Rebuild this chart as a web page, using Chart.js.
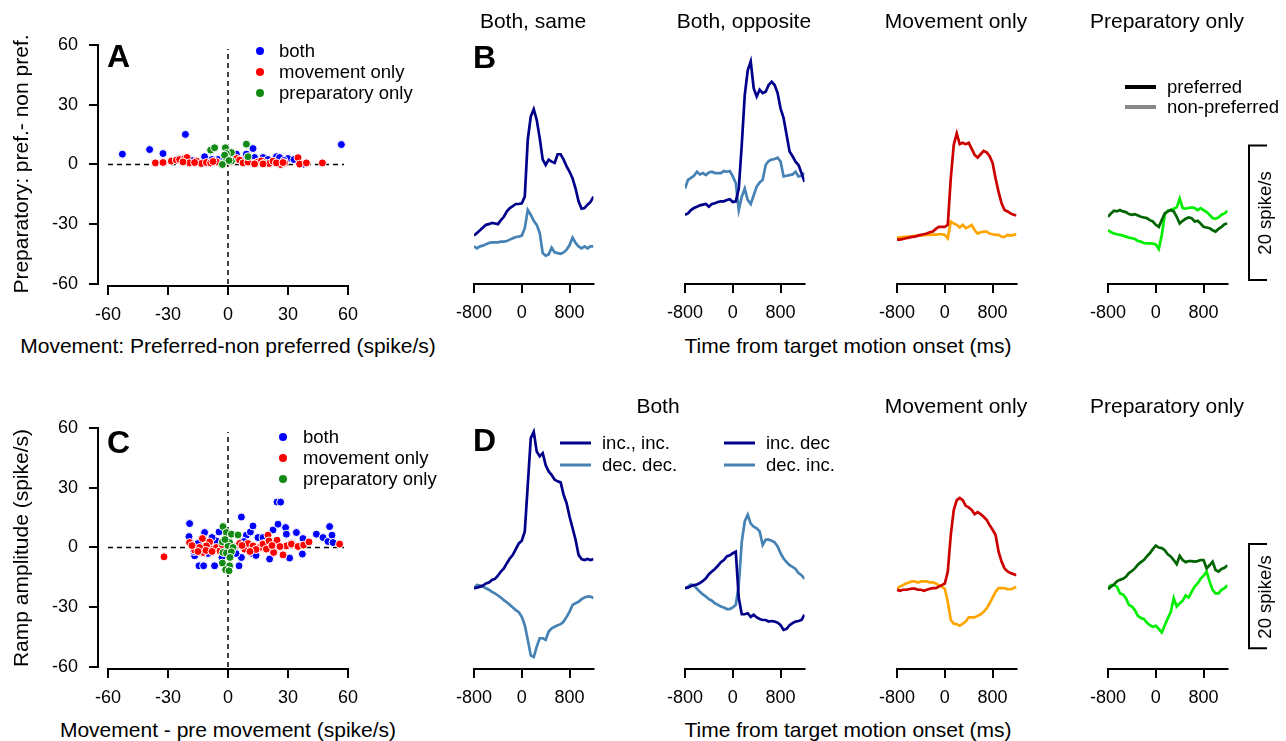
<!DOCTYPE html>
<html>
<head>
<meta charset="utf-8">
<script src="https://cdn.jsdelivr.net/npm/chart.js@4.4.1/dist/chart.umd.min.js"></script>
<style>
html, body { margin: 0; padding: 0; background: #fff; overflow: hidden; }
#fig { position: relative; width: 1286px; height: 741px; font-family: 'Liberation Sans', Arial, sans-serif; color: #000; }
#fig canvas { position: absolute; }
.t { position: absolute; white-space: nowrap; line-height: 1; font-size: 21px; transform: translate(-50%, -50%); }
.l { position: absolute; white-space: nowrap; line-height: 1; font-size: 18.5px; transform: translateY(-50%); }
.tag { position: absolute; font-size: 32px; font-weight: bold; line-height: 1; transform: translateY(-50%); }
.rot { position: absolute; white-space: nowrap; line-height: 1; transform: translate(-50%, -50%) rotate(-90deg); }
.dot { position: absolute; width: 8px; height: 8px; border-radius: 50%; transform: translate(-50%, -50%); }
.key { position: absolute; width: 31px; transform: translateY(-50%); }
</style>
</head>
<body>
<div id="fig">
  <!-- titulos de columnas -->
  <div class="t" style="left:533px;top:20px">Both, same</div>
  <div class="t" style="left:744px;top:20px">Both, opposite</div>
  <div class="t" style="left:956px;top:20px">Movement only</div>
  <div class="t" style="left:1167px;top:20px">Preparatory only</div>
  <div class="t" style="left:658px;top:405px">Both</div>
  <div class="t" style="left:956px;top:405px">Movement only</div>
  <div class="t" style="left:1167px;top:405px">Preparatory only</div>

  <!-- titulos de ejes -->
  <div class="t" style="left:228px;top:345px">Movement: Preferred-non preferred (spike/s)</div>
  <div class="t" style="left:228px;top:729px">Movement - pre movement (spike/s)</div>
  <div class="t" style="left:848px;top:345px">Time from target motion onset (ms)</div>
  <div class="t" style="left:848px;top:729px">Time from target motion onset (ms)</div>
  <div class="rot" style="left:20px;top:164px;font-size:21px">Preparatory: pref.- non pref.</div>
  <div class="rot" style="left:20px;top:548px;font-size:21px">Ramp amplitude (spike/s)</div>
  <div class="rot" style="left:1265px;top:213px;font-size:18.5px">20 spike/s</div>
  <div class="rot" style="left:1265px;top:597px;font-size:18.5px">20 spike/s</div>

  <!-- letras de paneles -->
  <div class="tag" style="left:107px;top:56px">A</div>
  <div class="tag" style="left:473px;top:57px">B</div>
  <div class="tag" style="left:107px;top:442px">C</div>
  <div class="tag" style="left:473px;top:440px">D</div>

  <!-- leyenda A -->
  <div class="dot" style="left:260px;top:51px;background:#0000ff"></div>
  <div class="dot" style="left:260px;top:72px;background:#ff0000"></div>
  <div class="dot" style="left:260px;top:93px;background:#138a13"></div>
  <div class="l" style="left:279px;top:51px">both</div>
  <div class="l" style="left:279px;top:72px">movement only</div>
  <div class="l" style="left:279px;top:93px">preparatory only</div>

  <!-- leyenda C -->
  <div class="dot" style="left:283px;top:437px;background:#0000ff"></div>
  <div class="dot" style="left:283px;top:458px;background:#ff0000"></div>
  <div class="dot" style="left:283px;top:479px;background:#138a13"></div>
  <div class="l" style="left:303px;top:437px">both</div>
  <div class="l" style="left:303px;top:458px">movement only</div>
  <div class="l" style="left:303px;top:479px">preparatory only</div>

  <!-- leyenda B -->
  <div class="key" style="left:1125px;top:87px;height:4px;background:#000"></div>
  <div class="key" style="left:1125px;top:107px;height:4px;background:#888"></div>
  <div class="l" style="left:1167px;top:87px">preferred</div>
  <div class="l" style="left:1167px;top:107px">non-preferred</div>

  <!-- leyenda D -->
  <div class="key" style="left:560px;top:443px;height:3px;background:#00008b"></div>
  <div class="key" style="left:560px;top:465px;height:3px;background:#4682b4"></div>
  <div class="l" style="left:602px;top:443px">inc., inc.</div>
  <div class="l" style="left:602px;top:465px">dec. dec.</div>
  <div class="key" style="left:724px;top:443px;height:3px;background:#00008b"></div>
  <div class="key" style="left:724px;top:465px;height:3px;background:#4682b4"></div>
  <div class="l" style="left:766px;top:443px">inc. dec</div>
  <div class="l" style="left:766px;top:465px">dec. inc.</div>
</div>

<script>
// ---- datos de los diagramas de dispersion (x, y) en spike/s ----
const aBoth = [[-52.8,5.2],[-39.2,7.5],[-32.5,5.5],[-21.3,15.1],[-11.7,3.9],[-5,2.5],[-1.7,3.0],[4.2,5.2],[9.2,5.2],[12.5,8.0],[13.3,3.5],[17.5,3.5],[24.2,3.9],[25.8,3.5],[30,3.0],[37.8,0.2],[56.7,10.0],[-25,2.5],[-18,2.0],[-8,2.5],[2,3.5],[7,2.0],[20,2.5],[28,2.0],[33,2.5]];
const aMov = [[-36.3,0.8],[-32.5,1.0],[-28.3,1.7],[-25.8,2.2],[-24.2,2.5],[-21.7,3.0],[-20.5,3.5],[-19.2,0.8],[-15.8,1.7],[-13.3,0.5],[-10.8,1.0],[-8.7,0.8],[-5.8,1.3],[1.7,1.3],[4.2,3.0],[5.8,2.2],[7.5,0.8],[11.7,0.8],[15,1.3],[16.7,1.8],[18.3,0.8],[20.5,0.5],[22.5,1.7],[26.3,0],[28.3,0.8],[35,3.4],[35.8,0.2],[39.2,0.8],[47.2,0.8],[-22.5,1.3],[-16.7,1.0],[-7.5,1.5],[-2.5,0.3],[10,1.2],[13.3,0.3],[17.5,0.3],[24.2,0.8],[27.5,1.0]];
const aPrep = [[-8.7,7.2],[-6.7,8.4],[-1.3,8.4],[1.7,6.0],[-0.8,5.5],[-0.8,3.0],[1.7,1.7],[-2.8,0],[9.2,10.2],[10,3.9],[-1.7,4.7],[0.5,2.0]];

const cBoth = [[-19.2,12.0],[-19.5,5.5],[-16.7,-4.2],[-14.5,-9.2],[-12.2,-9.2],[-11.7,7.5],[-6.7,-9.2],[-5.8,3.3],[-4.5,7.8],[6.7,15.3],[5.5,-9.2],[6.7,-5],[9.2,6.2],[11.2,7.8],[12.5,10.8],[15,5],[17.5,5],[20.8,-5.8],[22.5,8.8],[24.5,22.8],[26.3,22.8],[25,11.7],[28.8,10],[29.2,6.7],[30.8,-5.3],[34.2,7.5],[37.2,-3.3],[37.5,4.5],[44.2,6.7],[47.5,5],[50,3],[50.8,10.5],[52,6.2],[52.5,2.5],[-15,2],[-10,-3],[-8,5],[-3,-5],[4,-3],[8,3],[12,-3],[18,2],[23,-2],[32,2],[-17,-2],[14,-4]];
const cMov = [[-32,-4.7],[-19.2,2.5],[-16.7,-1.3],[-12.8,4.5],[-12.5,-2.5],[-9.2,2.8],[-7.5,-0.8],[-5.8,0],[-10.8,0.8],[-14.2,0],[-4,-1.7],[5.8,2],[8.3,-0.8],[10,2],[12.5,0.8],[15.8,0],[17.5,1.7],[19.2,-0.8],[20,6.2],[20.5,3.3],[22.8,-2.5],[24.5,3.7],[27.5,-3.7],[29.2,0.8],[31.7,1.7],[35,0.5],[37.8,1.2],[40.5,2.8],[55.8,1.7],[2.5,0],[-18,1],[-15,-2],[-11,-1.5],[-8,-2],[7,1],[14,-1],[22,1],[26,0.5],[-3,1.5],[11,-2]];
const cPrep = [[-2.5,10.5],[-0.8,7.5],[1.7,6.7],[5,6.3],[-2.8,2.8],[0.8,2.5],[0,0.8],[2.5,0],[-2.5,-2.5],[-0.8,-2.8],[1.7,-2.2],[-2.8,-7.8],[0.8,-9.2],[-1.2,-11.2],[0.5,-11.7],[-1.5,4],[1,-5]];

const scatterTicks = [-60, -30, 0, 30, 60];

// ---- curvas promedio: tiempo (ms) y tasa de disparo (spike/s) ----
const tMs = [-800,-750,-700,-650,-600,-550,-500,-450,-400,-350,-300,-250,-200,-150,-100,-50,0,50,100,150,200,250,300,350,400,450,500,550,600,650,700,750,800,850,900,950,1000,1050,1100,1150,1200];
const timeTicks = [-800, 0, 800];

// fila B: preferida / no preferida
const bSameP = [7.2,7.6,8.0,8.4,8.8,8.9,9.1,9.0,8.9,9.5,10.0,10.8,11.3,11.6,11.9,11.9,12.0,13.0,21.5,24.9,26.0,24.4,21.7,18.5,17.7,18.5,18.2,18.0,19.3,19.3,18.5,17.5,16.7,15.7,14.2,12.3,11.2,11.3,11.8,12.2,13.0];
const bSameN = [5.6,5.3,5.6,5.7,5.9,6.1,6.2,6.2,6.2,6.3,6.3,6.4,6.6,6.8,7.0,7.05,7.2,8.3,11.0,10.3,9.4,8.8,7.6,4.6,4.2,4.4,5.4,4.7,4.6,4.5,4.7,5.1,5.8,6.9,6.1,5.6,5.3,5.6,5.3,5.6,5.6];
const bOppP = [10.3,10.5,11.0,11.3,11.5,11.7,11.8,11.9,11.5,11.9,12.0,12.2,12.3,12.3,12.5,12.6,12.2,12.3,14.2,20.7,28.1,31.8,33.1,29.1,27.9,28.9,28.4,28.6,29.6,30.1,29.6,28.4,26.1,24.7,22.2,19.7,19.0,18.2,17.7,16.5,15.2];
const bOppN = [14.2,15.5,15.8,16.1,16.7,16.3,16.5,16.2,16.6,16.7,16.5,16.5,16.5,16.8,16.7,16.8,16.0,15.0,11.0,13.0,14.2,12.5,11.9,13.2,14.5,15.1,15.5,17.7,18.3,18.5,18.6,18.8,18.2,16.0,16.1,16.2,16.3,16.7,16.0,16.1,16.5];
const bMovP = [6.6,6.6,6.7,6.8,6.9,7.0,7.05,7.2,7.3,7.4,7.5,7.7,7.8,8.2,8.5,8.5,8.5,8.8,15.7,20.7,22.4,20.8,21.0,20.8,21.0,20.1,19.2,18.8,19.3,19.8,19.6,19.0,18.0,15.7,13.7,12.0,11.0,10.8,10.5,10.3,10.2];
const bMovN = [6.9,6.9,7.0,7.0,7.05,7.1,7.15,7.2,7.2,7.25,7.3,7.3,7.35,7.35,7.4,7.4,7.3,6.8,9.3,9.0,8.8,8.4,8.8,8.3,8.5,8.8,8.0,7.5,7.7,7.8,7.8,7.5,7.4,7.3,7.3,7.05,7.0,7.3,7.2,7.3,7.4];
const bPrepP = [10.0,10.5,10.9,10.8,11.0,10.8,10.7,10.4,10.3,10.4,10.2,10.0,9.9,9.8,9.5,9.3,8.8,8.5,9.5,10.5,10.8,11.0,10.8,10.0,9.0,9.4,9.7,9.9,9.8,9.3,9.4,9.0,8.5,8.4,8.3,8.0,7.8,8.2,8.5,8.9,9.0];
const bPrepN = [8.0,7.7,7.5,7.4,7.3,7.2,7.05,6.9,6.8,6.7,6.4,6.3,6.1,6.05,6.05,6.0,5.9,5.2,7.3,10.3,10.9,11.0,11.2,11.4,12.7,11.3,11.2,11.3,11.4,11.3,11.0,11.3,11.0,10.7,10.3,9.8,9.7,9.9,10.3,10.5,10.9];

// fila D: rampas
const dIncInc = [15.5,15.6,15.8,16.0,16.4,16.6,17.1,17.3,17.9,18.7,19.3,20.3,21.2,21.9,23.0,24.1,24.6,26.4,35.3,44.3,45.5,41.7,40.8,41.4,39.1,37.9,37.2,36.3,36.0,35.8,33.4,31.8,29.2,27.0,24.8,21.9,21.1,20.9,21.1,20.9,21.1];
const dDecDec = [15.5,16.1,16.0,15.8,15.5,15.2,14.8,14.5,14.1,13.7,13.2,12.8,12.3,11.8,11.3,10.9,10.0,8.4,5.6,2.6,2.3,4.3,5.9,5.9,5.6,7.2,7.8,8.1,8.4,8.6,9.1,10.0,11.0,12.3,12.6,12.9,13.4,13.7,13.9,13.9,13.6];
const dIncDec = [15.5,15.6,15.9,16.1,16.2,16.5,16.9,17.4,18.2,18.7,19.2,19.8,20.5,20.9,21.6,21.8,22.2,22.5,13.6,10.5,10.5,10.7,10.0,10.4,9.9,9.6,9.4,9.4,9.1,9.2,9.1,8.9,8.4,7.5,7.7,8.4,8.8,9.1,9.2,9.4,10.4];
const dDecInc = [15.5,15.8,16.2,16.0,15.4,14.8,14.3,13.9,13.4,13.1,12.6,12.3,12.0,11.8,11.5,11.5,11.8,12.3,16.1,24.4,28.3,29.6,27.9,27.3,27.0,26.4,23.8,24.8,24.8,24.6,24.3,23.5,22.2,21.2,20.5,19.9,19.6,19.2,18.4,18.0,17.3];
const dMovP = [15.2,15.0,15.2,15.2,15.3,15.4,15.4,15.2,15.2,15.0,15.2,15.4,15.5,15.5,15.8,16.1,16.4,18.7,25.7,30.5,32.4,32.8,32.4,31.3,31.0,30.5,29.7,30.1,29.7,29.2,28.6,27.6,26.7,25.7,22.5,20.6,19.3,18.7,18.4,18.2,18.0];
const dMovN = [15.5,15.8,16.1,16.4,16.6,16.8,16.8,16.6,16.8,16.8,16.8,16.6,16.6,16.4,16.1,15.8,15.4,12.9,9.4,8.7,8.6,8.3,8.7,9.1,9.9,9.9,9.9,10.2,10.5,11.0,11.6,12.6,13.7,14.8,15.5,15.5,15.5,15.3,15.3,15.5,15.8];
const dPrepP = [15.3,15.8,16.2,16.8,17.1,17.3,17.7,18.4,18.8,19.3,20.0,20.5,20.9,21.6,22.2,23.0,23.7,23.3,23.2,22.8,22.0,21.6,20.9,20.1,21.7,20.9,20.5,20.7,20.7,20.6,20.7,20.9,20.9,19.3,19.9,20.6,19.0,18.7,19.2,19.4,19.9];
const dPrepN = [15.6,16.1,16.1,15.8,14.5,14.3,13.6,12.3,12.0,11.3,10.2,9.8,9.6,8.9,8.4,8.1,8.3,7.7,7.0,8.4,9.7,10.9,13.6,12.0,12.6,13.1,14.1,13.7,14.8,15.8,16.4,17.3,17.9,18.7,16.8,15.2,14.5,14.5,15.2,15.5,16.1];

// colores
const cAzul = '#0000ff', cRojo = '#ff0000', cVerde = '#138a13';
const navy = '#00008b', steel = '#4682b4';

Chart.defaults.font.family = "'Liberation Sans', Arial, sans-serif";
Chart.defaults.color = '#000';
Chart.defaults.animation = false;

// ejes estilo R: linea solo entre los extremos pedidos, y barra de escala opcional
const ejesR = {
  id: 'ejesR',
  afterDraw(chart, args, o) {
    const { ctx, chartArea: a, scales: { x, y } } = chart;
    ctx.save();
    ctx.strokeStyle = '#000';
    ctx.lineWidth = 2;
    ctx.lineCap = 'square';
    ctx.beginPath();
    if (o.x) {
      ctx.moveTo(x.getPixelForValue(o.x[0]), a.bottom);
      ctx.lineTo(x.getPixelForValue(o.x[1]), a.bottom);
    }
    if (o.y) {
      ctx.moveTo(a.left, y.getPixelForValue(o.y[0]));
      ctx.lineTo(a.left, y.getPixelForValue(o.y[1]));
    }
    ctx.stroke();
    if (o.bar) {
      const bx = a.right + o.bar.dx;
      const y0 = y.getPixelForValue(o.bar.from);
      const y1 = y.getPixelForValue(o.bar.from + o.bar.size);
      ctx.lineCap = 'butt';
      ctx.beginPath();
      ctx.moveTo(bx + o.bar.w, y1);
      ctx.lineTo(bx, y1);
      ctx.lineTo(bx, y0);
      ctx.lineTo(bx + o.bar.w, y0);
      ctx.stroke();
    }
    ctx.restore();
  }
};

const fig = document.getElementById('fig');
function lienzo(left, top, w, h) {
  const c = document.createElement('canvas');
  c.width = w; c.height = h;
  c.style.left = left + 'px'; c.style.top = top + 'px';
  c.style.width = w + 'px'; c.style.height = h + 'px';
  fig.insertBefore(c, fig.firstChild);
  return c;
}

function ejeX(min, max, ticks, alto) {
  return {
    type: 'linear', min, max,
    afterBuildTicks: s => { s.ticks = ticks.map(v => ({ value: v })); },
    afterFit: s => { s.height = alto; },
    ticks: { font: { size: 18 }, padding: 9, autoSkip: false, maxRotation: 0 },
    grid: { drawOnChartArea: false, tickLength: 9, lineWidth: 2, color: '#000' },
    border: { display: false },
  };
}

function puntos(lista, color) {
  return {
    data: lista.map(([x, y]) => ({ x, y })),
    backgroundColor: color, borderColor: '#fff', borderWidth: 1, pointRadius: 4,
  };
}

function dispersion(top, both, mov, prep) {
  const guion = { borderColor: '#000', borderWidth: 1.5, borderDash: [5, 4], pointRadius: 0, showLine: true };
  new Chart(lienzo(0, top, 380, 330), {
    type: 'scatter',
    data: {
      datasets: [
        puntos(prep, cVerde),
        puntos(mov, cRojo),
        puntos(both, cAzul),
        { ...guion, data: [{ x: -60, y: 0 }, { x: 58, y: 0 }] },
        { ...guion, data: [{ x: 0, y: -60 }, { x: 0, y: 58 }] },
      ],
    },
    options: {
      responsive: false, devicePixelRatio: 1,
      layout: { padding: { left: 0, top: 41, right: 20, bottom: 0 } },
      plugins: { legend: { display: false }, tooltip: { enabled: false }, ejesR: { x: [-60, 60], y: [-60, 60] } },
      scales: {
        x: ejeX(-65, 66, scatterTicks, 44),
        y: {
          type: 'linear', min: -61, max: 62,
          afterBuildTicks: s => { s.ticks = scatterTicks.map(v => ({ value: v })); },
          afterFit: s => { s.width = 98; },
          ticks: { font: { size: 18 }, padding: 11 },
          grid: { drawOnChartArea: false, tickLength: 9, lineWidth: 2, color: '#000' },
          border: { display: false },
        },
      },
    },
    plugins: [ejesR],
  });
}

// margen izquierdo mayor que el desborde de la etiqueta "-800" (mitad del texto + padding)
const margenIzq = 34;

function curvas(left, top, xAlto, padTop, yMax, pref, noPref, c1, c2, barra) {
  const padRight = barra ? 60.5 : 26.5;
  const linea = (vals, color) => ({
    data: tMs.map((t, i) => ({ x: t, y: vals[i] })),
    borderColor: color, borderWidth: 2.7, pointRadius: 0, tension: 0,
  });
  new Chart(lienzo(left - margenIzq, top, margenIzq + 119.5 + padRight, 330), {
    type: 'line',
    data: { datasets: [linea(pref, c1), linea(noPref, c2)] },
    options: {
      responsive: false, devicePixelRatio: 1,
      layout: { padding: { left: margenIzq, top: padTop, right: padRight, bottom: 0 } },
      plugins: { legend: { display: false }, tooltip: { enabled: false }, ejesR: { x: [-800, 1200], bar: barra } },
      scales: {
        x: ejeX(-800, 1200, timeTicks, xAlto),
        y: { type: 'linear', min: 0, max: yMax, display: false },
      },
    },
    plugins: [ejesR],
  });
}

dispersion(0, aBoth, aMov, aPrep);
dispersion(383, cBoth, cMov, cPrep);

const lefts = [474, 685, 897, 1108];
curvas(lefts[0], 0, 46, 42, 36, bSameP, bSameN, navy, steel);
curvas(lefts[1], 0, 46, 42, 36, bOppP, bOppN, navy, steel);
curvas(lefts[2], 0, 46, 42, 36, bMovP, bMovN, '#cd0000', '#ffa500');
curvas(lefts[3], 0, 46, 42, 36, bPrepP, bPrepN, '#006400', '#00ee00', { dx: 21.5, w: 18, from: 0.6, size: 20 });

curvas(lefts[0], 383, 44, 41, 47, dIncInc, dDecDec, navy, steel);
curvas(lefts[1], 383, 44, 41, 47, dIncDec, dDecInc, navy, steel);
curvas(lefts[2], 383, 44, 41, 47, dMovP, dMovN, '#cd0000', '#ffa500');
curvas(lefts[3], 383, 44, 41, 47, dPrepP, dPrepN, '#006400', '#00ee00', { dx: 21.5, w: 18, from: 4, size: 20 });
</script>
</body>
</html>
